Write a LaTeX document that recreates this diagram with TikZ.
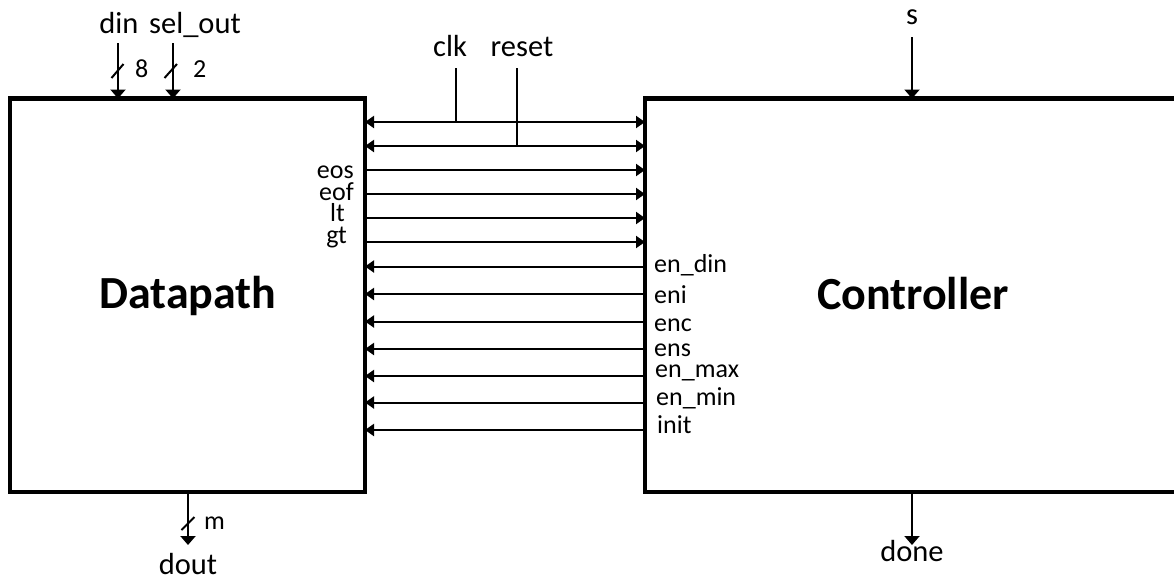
\documentclass[tikz,border=0pt]{standalone}
\usepackage{fontspec}
\setmainfont{Carlito}
\usetikzlibrary{arrows.meta,calc}
\begin{document}
\begin{tikzpicture}[x=1pt,y=-1pt,
  blockbox/.style={draw,line width=4.5pt,inner sep=0pt,outer sep=0pt,minimum height=393.5pt},
  title/.style={font=\fontsize{46}{50}\selectfont\bfseries,inner sep=0pt,anchor=base},
  lab/.style={font=\fontsize{26}{28}\selectfont,inner sep=0pt},
  toplab/.style={font=\fontsize{30.5}{33}\selectfont,inner sep=0pt},
  wire/.style={line width=2pt},
  sig/.style={line width=2pt,-{Triangle[length=9pt,width=12pt]}},
  bisig/.style={line width=2pt,{Triangle[length=9pt,width=12pt]}-{Triangle[length=9pt,width=12pt]}},
  vsig/.style={line width=2pt,-{Triangle[length=9pt,width=15pt]}},
  busmark/.style={line width=2pt}]
\useasboundingbox (0,0) rectangle (1174,579);
\clip (0,0) rectangle (1174,579);

% blocks
\node[blockbox,minimum width=355pt] (dp) at (187.5,295.25) {};
\node[blockbox,minimum width=545pt] (ct) at (917.5,295.25) {};
\node[title] (dptitle) at (188,308) {Datapath};
\node[title] (cttitle) at (913,309) {Controller};

% signal rows
\coordinate (yclk) at (0,122);
\coordinate (yreset) at (0,146);
\coordinate (yeos) at (0,170);
\coordinate (yeof) at (0,194);
\coordinate (ylt) at (0,218);
\coordinate (ygt) at (0,242);
\coordinate (yendin) at (0,266.5);
\coordinate (yeni) at (0,294);
\coordinate (yenc) at (0,321.5);
\coordinate (yens) at (0,349);
\coordinate (yenmax) at (0,376);
\coordinate (yenmin) at (0,402.5);
\coordinate (yinit) at (0,430);

% clk and reset (to both blocks)
\draw[bisig] (dp.east |- yclk) -- (ct.west |- yclk);
\draw[bisig] (dp.east |- yreset) -- (ct.west |- yreset);
\coordinate (clkin) at (456,68);
\coordinate (resetin) at (517,68);
\draw[wire] (clkin) -- (clkin |- yclk);
\draw[wire] (resetin) -- (resetin |- yreset);
\node[toplab,anchor=base] (clkl) at (450,56.5) {clk};
\node[toplab,anchor=base] (resetl) at (522,56.5) {reset};

% status signals datapath -> controller
\draw[sig] (dp.east |- yeos) -- (ct.west |- yeos);
\draw[sig] (dp.east |- yeof) -- (ct.west |- yeof);
\draw[sig] (dp.east |- ylt) -- (ct.west |- ylt);
\draw[sig] (dp.east |- ygt) -- (ct.west |- ygt);
\node[lab,anchor=base east] (eosl) at (354,178) {eos};
\node[lab,anchor=base east] (eofl) at (354,200) {eof};
\node[lab,anchor=base east] (ltl) at (345,221.5) {lt};
\node[lab,anchor=base east] (gtl) at (347,243) {gt};

% control signals controller -> datapath
\draw[sig] (ct.west |- yendin) -- (dp.east |- yendin);
\draw[sig] (ct.west |- yeni) -- (dp.east |- yeni);
\draw[sig] (ct.west |- yenc) -- (dp.east |- yenc);
\draw[sig] (ct.west |- yens) -- (dp.east |- yens);
\draw[sig] (ct.west |- yenmax) -- (dp.east |- yenmax);
\draw[sig] (ct.west |- yenmin) -- (dp.east |- yenmin);
\draw[sig] (ct.west |- yinit) -- (dp.east |- yinit);
\node[lab,anchor=base west] (endinl) at (654,272.5) {en\_din};
\node[lab,anchor=base west] (enil) at (654,303) {eni};
\node[lab,anchor=base west] (encl) at (654,331.5) {enc};
\node[lab,anchor=base west] (ensl) at (654,356.5) {ens};
\node[lab,anchor=base west] (enmaxl) at (655,377) {en\_max};
\node[lab,anchor=base west] (enminl) at (656,405) {en\_min};
\node[lab,anchor=base west] (initl) at (657,433) {init};

% datapath inputs
\coordinate (dinin) at (118,43);
\coordinate (selin) at (173,43);
\draw[vsig] (dinin) -- (dinin |- dp.north);
\draw[vsig] (selin) -- (selin |- dp.north);
\draw[busmark] ($(dinin)+(-6.5,35)$) -- ($(dinin)+(5.5,21)$);
\draw[busmark] ($(selin)+(-8.5,35)$) -- ($(selin)+(4,21)$);
\node[toplab,anchor=base] (dinl) at (119,33) {din};
\node[toplab,anchor=base west] (sell) at (149,33) {sel\_out};
\node[lab,anchor=base west] (w8) at (135,77) {8};
\node[lab,anchor=base west] (w2) at (193,77) {2};

% datapath output
\coordinate (doutend) at (188,545);
\draw[vsig] (doutend |- dp.south) -- (doutend);
\draw[busmark] ($(doutend)+(-6.5,-15)$) -- ($(doutend)+(6.5,-28)$);
\node[lab,anchor=base west] (wm) at (204,529) {m};
\node[toplab,anchor=base] (doutl) at (188,574.5) {dout};

% controller input / output
\coordinate (sin) at (912,37);
\draw[vsig] (sin) -- (sin |- ct.north);
\node[toplab,anchor=base] (sl) at (912,24) {s};
\coordinate (doneend) at (912,545);
\draw[vsig] (doneend |- ct.south) -- (doneend);
\node[toplab,anchor=base] (donel) at (912,561.5) {done};
\end{tikzpicture}
\end{document}
